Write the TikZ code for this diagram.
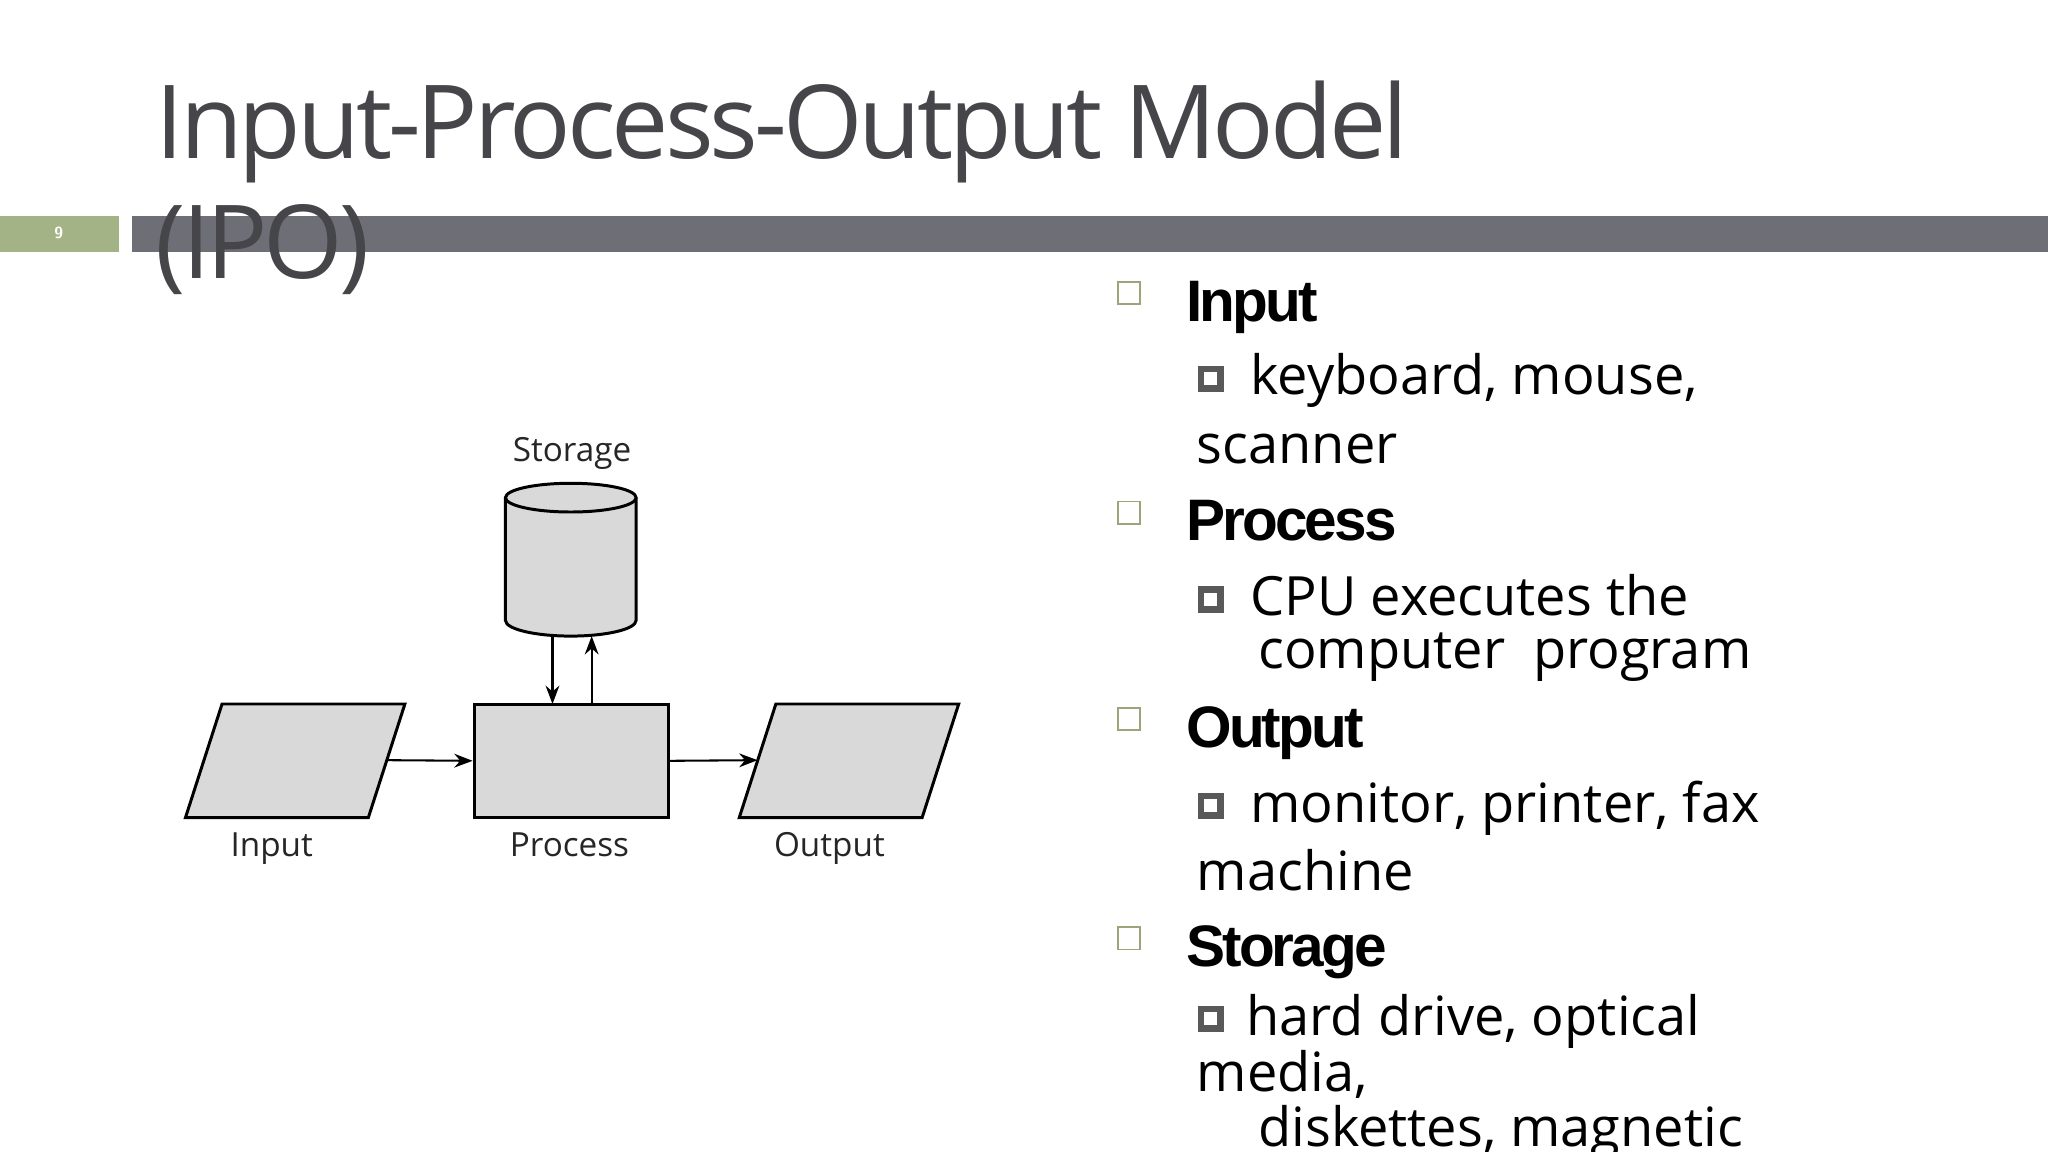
\documentclass[tikz,border=0pt]{standalone}
\usepackage{fontspec}
\setmainfont{Open Sans}
\newfontfamily\hdfont[LetterSpace=-5]{Liberation Sans}
\newfontfamily\ttlfont[LetterSpace=-4]{Open Sans}
\usetikzlibrary{arrows.meta,calc}
\definecolor{titlegray}{HTML}{45454A}
\definecolor{bargray}{HTML}{6E6E76}
\definecolor{pagegreen}{HTML}{A3B386}
\definecolor{olive}{HTML}{9EA37A}
\definecolor{boxfill}{HTML}{D9D9D9}
\tikzset{
  px/.style={x=0.02cm,y=-0.02cm},
  shapebox/.style={draw=black,line width=1.3pt,fill=boxfill},
  flow/.style={-{Stealth[length=8pt,width=6pt]},line width=0.9pt},
  dlabel/.style={font=\fontsize{14.5}{16}\selectfont,anchor=base,text=black!85},
  head/.style={anchor=base west,font=\hdfont\bfseries\fontsize{25.5}{28}\selectfont,text=black},
  sub/.style={anchor=base west,font=\fontsize{23.6}{26}\selectfont,text=black},
}
\newcommand{\hollowbox}[1]{\draw[olive,line width=0.8pt] (#1) rectangle ++(17,17);}
\newcommand{\subbox}[1]{\fill[black!65] (#1) rectangle ++(20,20); \fill[white] ($(#1)+(5,5)$) rectangle ++(10,10);}
\begin{document}
\begin{tikzpicture}[px]
\useasboundingbox (0,0) rectangle (1568,882);
\clip (0,0) rectangle (1568,882);
% title bar
\fill[bargray] (101,165) rectangle (1568,193);
\fill[pagegreen] (0,165) rectangle (91,193);
\node[text=white,font=\sffamily\bfseries\fontsize{7}{8}\selectfont] (pg) at (45,178) {9};
\node[anchor=base west,inner sep=0,text=titlegray,font=\ttlfont\fontsize{44.5}{50}\selectfont] (t1) at (119,121) {Input-Process-Output Model};
\node[anchor=base west,inner sep=0,text=titlegray,font=\ttlfont\fontsize{44.5}{50}\selectfont] (t2) at (119,213) {(IPO)};
% diagram
\coordinate (inA) at (142,626); \coordinate (inB) at (170,539); \coordinate (inC) at (310,539); \coordinate (inD) at (282,626);
\draw[shapebox] (inA)--(inB)--(inC)--(inD)--cycle;
\coordinate (inR) at (296,582);
\node[shapebox,minimum width=2.98cm,minimum height=1.74cm,inner sep=0] (proc) at (437.5,582.5) {};
\coordinate (ouA) at (566,626); \coordinate (ouB) at (594,539); \coordinate (ouC) at (734,539); \coordinate (ouD) at (706,626);
\draw[shapebox] (ouA)--(ouB)--(ouC)--(ouD)--cycle;
\coordinate (ouL) at (580,582);
\draw[flow] (inR) -- (proc.west);
\draw[flow] (proc.east) -- (ouL);
% cylinder
\draw[shapebox] (387,381) -- (387,475) arc[start angle=180,end angle=0,x radius=50,y radius=12] -- (487,381);
\draw[shapebox] (437,381) ellipse[x radius=50,y radius=11];
\coordinate (cylD) at (423,487); \coordinate (cylU) at (453,487);
\coordinate (prD) at (423,539); \coordinate (prU) at (453,539);
\draw[flow] (cylD) -- (prD);
\draw[flow] (prU) -- (cylU);
\node[dlabel] (lst) at (438,353) {Storage};
\node[dlabel] (lin) at (208,656) {Input};
\node[dlabel] (lpr) at (436,656) {Process};
\node[dlabel] (lou) at (635,656) {Output};
% right list
\hollowbox{856,216}\hollowbox{856,384}\hollowbox{856,542}\hollowbox{856,710}
\subbox{917,280}\subbox{917,449}\subbox{917,607}\subbox{917,770}
\node[head,inner sep=0] (h1) at (908,246) {Input};
\node[sub,inner sep=0] (s1a) at (957,302) {keyboard, mouse,};
\node[sub,inner sep=0] (s1b) at (916,355) {scanner};
\node[head,inner sep=0] (h2) at (908,414) {Process};
\node[sub,inner sep=0] (s2a) at (957,471) {CPU executes the};
\node[sub,inner sep=0] (s2b) at (963,512) {computer\ \ program};
\node[head,inner sep=0] (h3) at (908,572) {Output};
\node[sub,inner sep=0] (s3a) at (957,630) {monitor, printer, fax};
\node[sub,inner sep=0] (s3b) at (916,682) {machine};
\node[head,inner sep=0] (h4) at (908,740) {Storage};
\node[sub,inner sep=0] (s4a) at (954,793) {hard drive, optical};
\node[sub,inner sep=0] (s4b) at (916,836) {media,};
\node[sub,inner sep=0] (s4c) at (963,878) {diskettes, magnetic};
\end{tikzpicture}
\end{document}
